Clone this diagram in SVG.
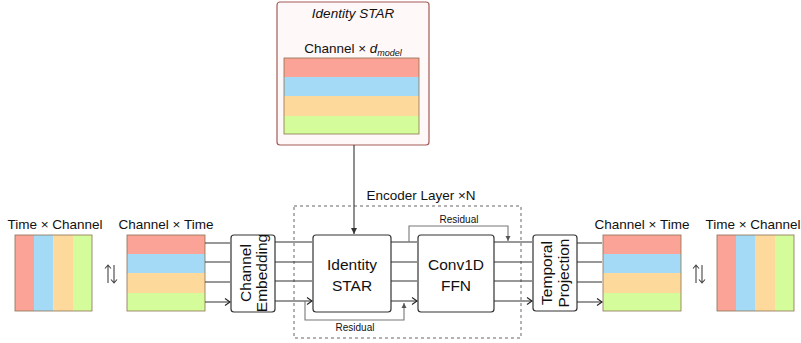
<svg xmlns="http://www.w3.org/2000/svg" width="801" height="343" viewBox="0 0 801 343">
<defs>
<marker id="arr" markerWidth="8" markerHeight="8" refX="6" refY="4" orient="auto" markerUnits="userSpaceOnUse">
<polyline points="1,0.5 6,4 1,7.5" fill="none" stroke="#222" stroke-width="1.1"/>
</marker>
<marker id="sm" markerWidth="6" markerHeight="6" refX="5" refY="3" orient="auto" markerUnits="userSpaceOnUse">
<path d="M0,0.5 L5,3 L0,5.5 Z" fill="#555"/>
</marker>
<marker id="big" markerWidth="8" markerHeight="8" refX="6" refY="4" orient="auto" markerUnits="userSpaceOnUse">
<path d="M0,1 L6,4 L0,7 Z" fill="#333"/>
</marker>
</defs>
<style>
text{font-family:"Liberation Sans",Arial,sans-serif;fill:#111}
.lbl{font-size:13.5px;text-anchor:middle}
.big{font-size:15.5px;text-anchor:middle}
.box{fill:#fff;stroke:#333;stroke-width:1.2}
.mat{stroke:#8a7050;stroke-width:0.8;fill:none}
.r{fill:#FCA397}.b{fill:#A4DAF5}.o{fill:#FDD99B}.g{fill:#D5FC9A}
.c{stroke:#333;stroke-width:1.1;fill:none;marker-end:url(#arr)}
.res{stroke:#777;stroke-width:1.1;fill:none;marker-end:url(#sm)}
.rl{font-size:10px;text-anchor:middle}
.sw{stroke:#444;stroke-width:1.1;fill:none}
</style>

<g id="identity-star-detail">
<rect x="277" y="2" width="152" height="143" rx="3" fill="#FFF8F8" stroke="#A35B57" stroke-width="1.2"/>
<text x="353" y="18" class="lbl" font-style="italic" font-size="14">Identity STAR</text>
<text x="353" y="53" class="lbl" font-size="14">Channel × <tspan font-style="italic">d</tspan><tspan font-style="italic" font-size="9" dy="3">model</tspan></text>
<rect x="284" y="58" width="135" height="19" class="r"/>
<rect x="284" y="77" width="135" height="19" class="b"/>
<rect x="284" y="96" width="135" height="20" class="o"/>
<rect x="284" y="116" width="135" height="18" class="g"/>
<rect x="284" y="58" width="135" height="76" class="mat"/>
</g>

<g id="input-time-channel">
<text x="55" y="229" class="lbl">Time × Channel</text>
<rect x="15" y="235" width="19" height="76" class="r"/>
<rect x="34" y="235" width="19.5" height="76" class="b"/>
<rect x="53.5" y="235" width="19.5" height="76" class="o"/>
<rect x="73" y="235" width="19" height="76" class="g"/>
<rect x="15" y="235" width="77" height="76" class="mat"/>
</g>
<g id="swap-left">
<path class="sw" d="M108,283V265M105,268.5L108,265L111,268.5M114,265V283M111,279.5L114,283L117,279.5"/>
</g>
<g id="input-channel-time">
<text x="166" y="229" class="lbl">Channel × Time</text>
<rect x="127" y="235" width="78" height="19" class="r"/>
<rect x="127" y="254" width="78" height="19" class="b"/>
<rect x="127" y="273" width="78" height="20" class="o"/>
<rect x="127" y="293" width="78" height="18" class="g"/>
<rect x="127" y="235" width="78" height="76" class="mat"/>
</g>

<g id="channel-embedding">
<rect x="231" y="235" width="44" height="77" rx="3" class="box"/>
<text transform="translate(253,273) rotate(-90)" class="big"><tspan x="0" y="-2">Channel</tspan><tspan x="0" y="14">Embedding</tspan></text>
</g>

<g id="encoder-layer">
<rect x="294" y="206" width="227" height="132" fill="none" stroke="#555" stroke-width="0.9" stroke-dasharray="3,3"/>
<text x="421" y="200" class="lbl" font-size="14.5">Encoder Layer ×N</text>
</g>

<g id="identity-star">
<rect x="313" y="235" width="78" height="77" rx="3" class="box"/>
<text x="352" y="270" class="big">Identity</text>
<text x="352" y="291" class="big">STAR</text>
</g>

<g id="conv1d-ffn">
<rect x="418" y="235" width="76" height="77" rx="3" class="box"/>
<text x="456" y="270" class="big">Conv1D</text>
<text x="456" y="291" class="big">FFN</text>
</g>

<g id="temporal-projection">
<rect x="533" y="235" width="44" height="76" rx="3" class="box"/>
<text transform="translate(555,273) rotate(-90)" class="big"><tspan x="0" y="-3">Temporal</tspan><tspan x="0" y="14">Projection</tspan></text>
</g>

<g id="output-channel-time">
<text x="642" y="229" class="lbl">Channel × Time</text>
<rect x="603" y="235" width="78" height="19" class="r"/>
<rect x="603" y="254" width="78" height="19" class="b"/>
<rect x="603" y="273" width="78" height="20" class="o"/>
<rect x="603" y="293" width="78" height="18" class="g"/>
<rect x="603" y="235" width="78" height="76" class="mat"/>
</g>
<g id="swap-right">
<path class="sw" d="M696,283V265M693,268.5L696,265L699,268.5M702,265V283M699,279.5L702,283L705,279.5"/>
</g>
<g id="output-time-channel">
<text x="753" y="229" class="lbl">Time × Channel</text>
<rect x="717" y="235" width="19" height="76" class="r"/>
<rect x="736" y="235" width="19" height="76" class="b"/>
<rect x="755" y="235" width="20" height="76" class="o"/>
<rect x="775" y="235" width="19" height="76" class="g"/>
<rect x="717" y="235" width="77" height="76" class="mat"/>
</g>

<g id="connectors">
<line x1="354" y1="145" x2="354" y2="234" stroke="#333" stroke-width="1.1" marker-end="url(#big)"/>
<path class="c" d="M205,243H230M205,262H230M205,282H230M205,302H230"/>
<path class="c" d="M275,242H312M275,262H312M275,281H312M275,301H312"/>
<path class="c" d="M391,242H417M391,262H417M391,281H417M391,301H417"/>
<path class="c" d="M494,242H532M494,262H532M494,281H532M494,301H532"/>
<path class="c" d="M577,243H602M577,262H602M577,282H602M577,302H602"/>
<path class="res" d="M409,242V226H508V241"/>
<text x="459" y="223" class="rl">Residual</text>
<path class="res" d="M305,301V320H404V303"/>
<text x="355" y="331" class="rl">Residual</text>
</g>
</svg>
